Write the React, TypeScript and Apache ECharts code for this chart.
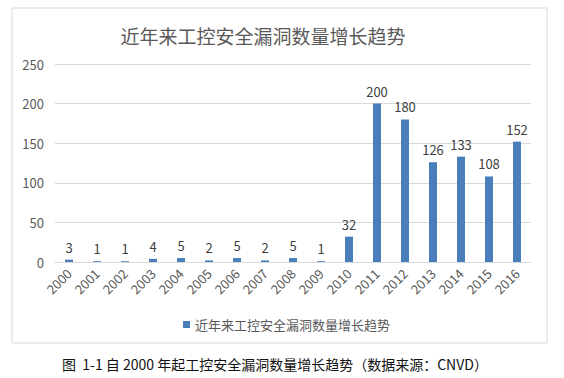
import React, { useEffect, useRef } from "react";
import * as echarts from "echarts";

const categories = ["2000","2001","2002","2003","2004","2005","2006","2007","2008","2009","2010","2011","2012","2013","2014","2015","2016"];
const values = [3, 1, 1, 4, 5, 2, 5, 2, 5, 1, 32, 200, 180, 126, 133, 108, 152];
const seriesName = "近年来工控安全漏洞数量增长趋势";
const titleText = "近年来工控安全漏洞数量增长趋势";
const captionText = "图  1-1 自 2000 年起工控安全漏洞数量增长趋势（数据来源：CNVD）";

export default function App() {
  const ref = useRef<HTMLDivElement>(null);
  useEffect(() => {
    const chart = echarts.init(ref.current!, null, { renderer: "svg" });
    const font = "'Microsoft YaHei', 'Noto Sans CJK SC', sans-serif";
    chart.setOption({
      animation: false,
      backgroundColor: "#ffffff",
      textStyle: { fontFamily: font },
      title: {
        text: titleText,
        left: 258,
        textAlign: "center",
        top: 21,
        textStyle: { fontSize: 19, fontWeight: "normal", color: "#595959", fontFamily: font },
      },
      legend: {
        data: [seriesName],
        left: 178,
        top: 313,
        icon: "rect",
        itemWidth: 7,
        itemHeight: 7,
        itemGap: 4,
        textStyle: { fontSize: 13, color: "#595959", fontFamily: font },
      },
      grid: { left: 55, right: 33, top: 64, bottom: 116 },
      xAxis: {
        type: "category",
        data: categories,
        axisLine: { lineStyle: { color: "#d9d9d9" } },
        axisTick: { show: false },
        axisLabel: { rotate: 45, color: "#595959", fontSize: 13, margin: 9, fontFamily: font },
      },
      yAxis: {
        type: "value",
        min: 0,
        max: 250,
        interval: 50,
        axisLine: { show: false },
        axisTick: { show: false },
        axisLabel: { color: "#595959", fontSize: 13, margin: 11, fontFamily: font },
        splitLine: { lineStyle: { color: "#d9d9d9" } },
      },
      series: [
        {
          name: seriesName,
          type: "bar",
          data: values,
          barWidth: 8,
          itemStyle: { color: "#4a7ebb" },
          label: { show: true, position: "top", color: "#404040", fontSize: 13, distance: 6, fontFamily: font },
        },
      ],
      graphic: [
        {
          type: "rect",
          shape: { x: 12, y: 8, width: 535, height: 335 },
          style: { fill: "none", stroke: "#d9d9d9", lineWidth: 1 },
          silent: true,
        },
        {
          type: "text",
          left: 62,
          top: 357,
          style: { text: captionText, fontSize: 14, fill: "#111111", fontFamily: font },
        },
      ],
    });
    return () => chart.dispose();
  }, []);
  return <div ref={ref} style={{ position: "absolute", left: 0, top: 0, width: 564, height: 378 }} />;
}
